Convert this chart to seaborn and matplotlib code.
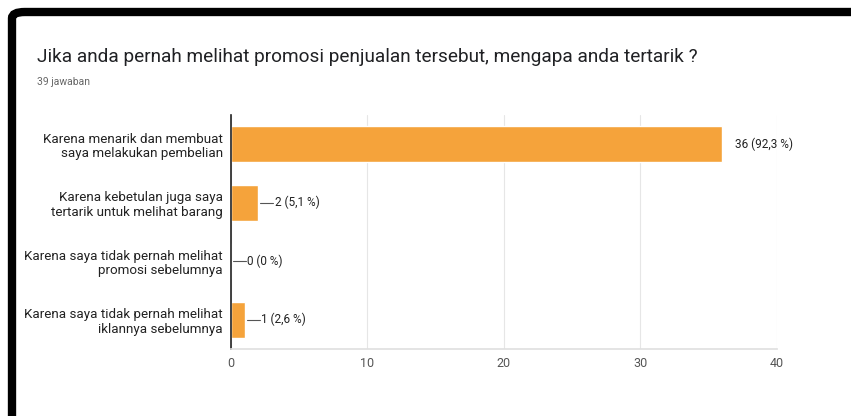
import pandas as pd
import seaborn as sns
from matplotlib import pyplot as plt
from matplotlib.patches import FancyBboxPatch

# data
categories = [
    "Karena menarik dan membuat\nsaya melakukan pembelian",
    "Karena kebetulan juga saya\ntertarik untuk melihat barang",
    "Karena saya tidak pernah melihat\npromosi sebelumnya",
    "Karena saya tidak pernah melihat\niklannya sebelumnya",
]
counts = [36, 2, 0, 1]
value_labels = ["36 (92,3 %)", "2 (5,1 %)", "0 (0 %)", "1 (2,6 %)"]
x_ticks = [0, 10, 20, 30, 40]

title = "Jika anda pernah melihat promosi penjualan tersebut, mengapa anda tertarik ?"
subtitle = "39 jawaban"

sns.set_theme(style="white")
plt.rcParams['font.family'] = ['Roboto', 'DejaVu Sans']

df = pd.DataFrame({"kategori": categories, "jumlah": counts})

fig = plt.figure(figsize=(8.51, 4.16), dpi=100)
ax = fig.add_axes([0.2714, 0.161, 0.913 - 0.2714, 0.7236 - 0.161])

sns.barplot(data=df, y="kategori", x="jumlah", orient="h", color="#f5a33b",
            saturation=1, width=0.62, ax=ax)

ax.set_xlim(0, 40)
ax.set_ylim(3.5, -0.5)
ax.set_xticks(x_ticks)
ax.set_xticklabels([str(t) for t in x_ticks], color="#555555", fontsize=9)
ax.tick_params(axis='x', length=0, pad=6)
ax.tick_params(axis='y', length=0, pad=6)
ax.set_yticks(range(len(categories)))
ax.set_yticklabels(categories, fontsize=9.6, color="#222222", linespacing=1.15)
ax.set_xlabel("")
ax.set_ylabel("")
ax.grid(axis='x', color="#e6e6e6", linewidth=0.8)
ax.set_axisbelow(True)
for s in ["top", "right"]:
    ax.spines[s].set_visible(False)
ax.spines["bottom"].set_color("#e0e0e0")
ax.spines["left"].set_color("#222222")
ax.spines["left"].set_linewidth(1.2)

# value labels
for i, (c, lab) in enumerate(zip(counts, value_labels)):
    if c > 10:
        ax.text(c + 0.9, i, lab, va="center", ha="left", fontsize=8.5, color="#222222")
    else:
        ax.plot([c + 0.15, c + 1.1], [i, i], color="#555555", linewidth=0.8, clip_on=False)
        ax.text(c + 1.2, i, lab, va="center", ha="left", fontsize=8.5, color="#222222")

fig.text(37 / 851, 1 - 57 / 416, title, fontsize=13.7, color="#202124", va="center", ha="left")
fig.text(37 / 851, 1 - 82 / 416, subtitle, fontsize=7.5, color="#666666", va="center", ha="left")

# black frame around the screenshot
frame = FancyBboxPatch((12 / 851, -0.2), 1.2, 1.2 - 12 / 416,
                       boxstyle="round,pad=0,rounding_size=0.015",
                       transform=fig.transFigure, fill=False,
                       edgecolor="black", linewidth=6, zorder=10)
fig.patches.append(frame)

fig.savefig("out.png", dpi=100)
